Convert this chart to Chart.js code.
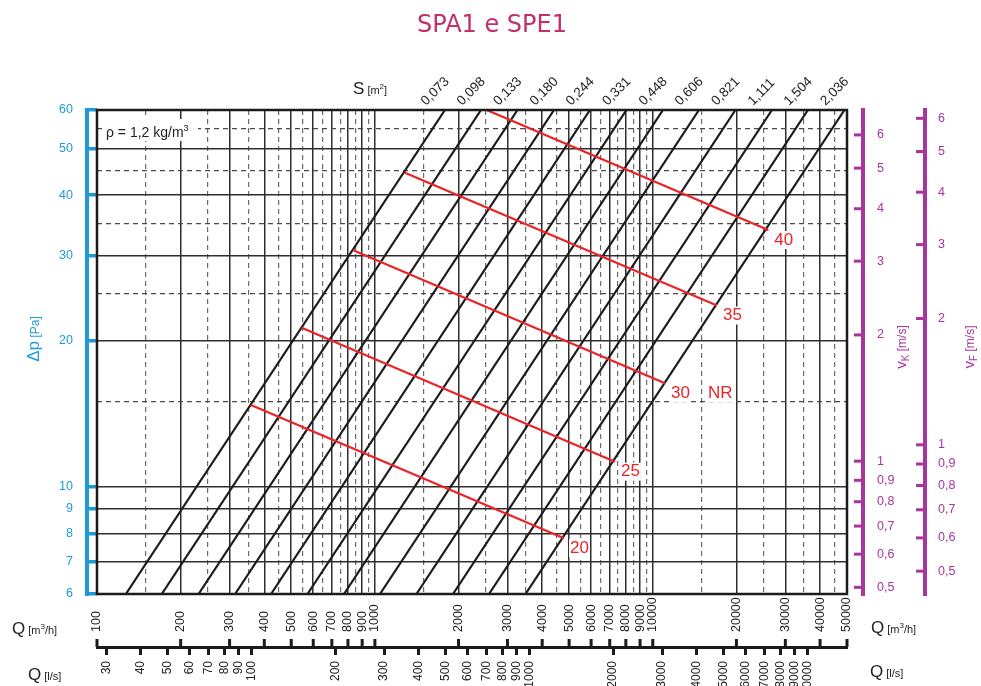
<!DOCTYPE html>
<html lang="it">
<head>
<meta charset="utf-8">
<title>SPA1 e SPE1</title>
<script src="https://cdn.jsdelivr.net/npm/chart.js@4.4.1/dist/chart.umd.min.js"></script>
<style>
  body { margin: 0; background: #fff; }
  canvas { display: block; }
</style>
</head>
<body onload="init()">
<canvas id="graficoPerdite" width="981" height="686"></canvas>
<script>
var oggettoGrafico;

// superficie S [m2] di ogni retta
const etichetteS = ['0,073', '0,098', '0,133', '0,180', '0,244', '0,331', '0,448', '0,606', '0,821', '1,111', '1,504', '2,036'];
const portataA6 = [127, 171, 232, 314, 423, 572, 774, 1043, 1411, 1910, 2574, 3483];
const portataA60 = [1787, 2409, 3260, 4411, 5943, 8042, 10882, 14664, 19840, 26849, 36176, 48960];

// curve NR (inizio e fine di ogni segmento rosso)
const etichetteNR = ['20', '25', '30', '35', '40'];
const nrInizioQ = [358, 545, 836, 1283, 2525];
const nrInizioDp = [14.75, 21.3, 30.8, 44.5, 60];
const nrFineQ = [4791, 7311, 11063, 17022, 26031];
const nrFineDp = [7.82, 11.26, 16.35, 23.67, 33.9];

// tacche degli assi
const taccheDp = [6, 7, 8, 9, 10, 20, 30, 40, 50, 60];
const taccheDpMezze = [15, 25, 35, 45, 55];
const taccheQ = [100, 200, 300, 400, 500, 600, 700, 800, 900, 1000, 2000, 3000, 4000, 5000, 6000, 7000, 8000, 9000, 10000, 20000, 30000, 40000, 50000];
const taccheQMezze = [150, 250, 350, 450, 550, 650, 750, 850, 950, 1500, 2500, 3500, 4500, 5500, 6500, 7500, 8500, 9500, 15000, 25000, 35000, 45000];
const taccheLs = [30, 40, 50, 60, 70, 80, 90, 100, 200, 300, 400, 500, 600, 700, 800, 900, 1000, 2000, 3000, 4000, 5000, 6000, 7000, 8000, 9000, 10000];
const taccheV = [0.5, 0.6, 0.7, 0.8, 0.9, 1, 2, 3, 4, 5, 6];

// estremi degli assi
const campoQ = [100, 50000];
const campoLs = [27.78, 13889];
const campoDp = [6, 60];
const campoVk = [0.482, 6.88];
const campoVf = [0.441, 6.28];

const carattere = '"Liberation Sans", Arial, sans-serif';
const blu = '#1f9ad6';
const magenta = '#a8359b';
const rosso = '#ec2227';
const nero = '#1b1b1b';

function mezzo(c, lista) {
  return c.tick !== undefined && lista.includes(c.tick.value);
}

function tutte(a, b) {
  return a.concat(b).sort(function (p, q) { return p - q; }).map(function (v) { return { value: v }; });
}

// scrive un testo fatto di pezzi con font diversi
function testo(ctx, x, y, angolo, pezzi, colore, centrato) {
  ctx.save();
  ctx.translate(x, y);
  ctx.rotate(angolo);
  ctx.fillStyle = colore;
  ctx.textAlign = 'left';
  ctx.textBaseline = 'alphabetic';
  var larghezza = 0;
  for (var p of pezzi) { ctx.font = p[1] + ' ' + carattere; larghezza += ctx.measureText(p[0]).width; }
  var cx = centrato ? -larghezza / 2 : 0;
  for (var p of pezzi) {
    ctx.font = p[1] + ' ' + carattere;
    ctx.fillText(p[0], cx, p[2] || 0);
    cx += ctx.measureText(p[0]).width;
  }
  ctx.restore();
}

const disegno = {
  id: 'disegno',
  afterDatasetsDraw(chart) {
    const ctx = chart.ctx;
    const a = chart.chartArea;
    ctx.save();
    ctx.strokeStyle = nero;
    ctx.lineWidth = 2.5;
    ctx.strokeRect(a.left, a.top, a.right - a.left, a.bottom - a.top);
    ctx.restore();
  },
  afterDraw(chart) {
    const ctx = chart.ctx;
    const a = chart.chartArea;
    const sx = chart.scales.x;
    const sy = chart.scales.y;
    const sls = chart.scales.xls;

    ctx.save();
    // asse blu del delta p
    ctx.strokeStyle = blu;
    ctx.lineWidth = 4;
    ctx.beginPath();
    ctx.moveTo(a.left - 10, a.top - 2);
    ctx.lineTo(a.left - 10, a.bottom + 2);
    ctx.stroke();

    // assi delle velocita
    ctx.strokeStyle = magenta;
    for (var s of [chart.scales.vk, chart.scales.vf]) {
      var xa = s.left + 16;
      ctx.lineWidth = 4;
      ctx.beginPath();
      ctx.moveTo(xa, a.top - 2);
      ctx.lineTo(xa, a.bottom + 2);
      ctx.stroke();
      ctx.lineWidth = 3;
      for (var t of s.ticks) {
        var yt = s.getPixelForValue(t.value);
        ctx.beginPath();
        ctx.moveTo(xa - 9, yt);
        ctx.lineTo(xa, yt);
        ctx.stroke();
      }
    }

    // tacche e numeri della portata in m3/h
    var yAsse = sls.top;
    ctx.strokeStyle = nero;
    ctx.lineWidth = 3;
    ctx.fillStyle = '#222';
    ctx.font = '12.5px ' + carattere;
    ctx.textBaseline = 'middle';
    ctx.textAlign = 'left';
    for (var v of taccheQ) {
      var px = sx.getPixelForValue(v);
      ctx.beginPath();
      ctx.moveTo(px, yAsse - 8);
      ctx.lineTo(px, yAsse);
      ctx.stroke();
      ctx.save();
      ctx.translate(px, yAsse - 15);
      ctx.rotate(-Math.PI / 2);
      ctx.fillText(String(v), 0, 0);
      ctx.restore();
    }
    ctx.restore();

    testo(ctx, 12, 634, 0, [['Q', '17px'], [' [m', '11px'], ['3', '8px', -5], ['/h]', '11px']], '#222');
    testo(ctx, 871, 633, 0, [['Q', '17px'], [' [m', '11px'], ['3', '8px', -5], ['/h]', '11px']], '#222');
    testo(ctx, 28, 680, 0, [['Q', '17px'], [' [l/s]', '11px']], '#222');
    testo(ctx, 870, 677, 0, [['Q', '17px'], [' [l/s]', '11px']], '#222');

    // etichette delle superfici
    for (var i = 0; i < etichetteS.length; i++) {
      var xs = sx.getPixelForValue(portataA60[i]);
      testo(ctx, xs - 19, 106, -Math.PI / 4, [[etichetteS[i], '13.5px']], '#222');
    }
    testo(ctx, 353, 94, 0, [['S', '17px'], [' [m', '11px'], ['2', '8px', -5], [']', '11px']], '#222');

    // densita
    ctx.save();
    ctx.fillStyle = '#fff';
    ctx.fillRect(103, 119, 95, 22);
    ctx.restore();
    testo(ctx, 106, 137, 0, [['\u03c1 = 1,2 kg/m', '14px'], ['3', '9px', -6]], '#222');

    // etichette NR
    ctx.save();
    ctx.font = '17px ' + carattere;
    ctx.textBaseline = 'middle';
    ctx.textAlign = 'left';
    for (var k = 0; k < etichetteNR.length; k++) {
      var ex = sx.getPixelForValue(nrFineQ[k]) + 6;
      var ey = sy.getPixelForValue(nrFineDp[k]) + 10;
      var w = ctx.measureText(etichetteNR[k]).width;
      ctx.fillStyle = '#fff';
      ctx.fillRect(ex - 1, ey - 9, w + 2, 18);
      ctx.fillStyle = rosso;
      ctx.fillText(etichetteNR[k], ex, ey);
      if (etichetteNR[k] === '30') {
        ctx.fillStyle = '#fff';
        ctx.fillRect(ex + 36, ey - 9, ctx.measureText('NR').width + 2, 18);
        ctx.fillStyle = rosso;
        ctx.fillText('NR', ex + 37, ey);
      }
    }
    ctx.restore();

    // titoli degli assi
    testo(ctx, 39, 339, -Math.PI / 2, [['\u0394p', '17px'], [' [Pa]', '12px']], blu, true);
    testo(ctx, 906, 347, -Math.PI / 2, [['v', '15px'], ['K', '10px', 3], [' [m/s]', '12px']], magenta, true);
    testo(ctx, 974, 347, -Math.PI / 2, [['v', '15px'], ['F', '10px', 3], [' [m/s]', '12px']], magenta, true);

    // titolo
    ctx.save();
    ctx.fillStyle = '#c1306c';
    ctx.font = '24px "DejaVu Sans", sans-serif';
    ctx.textAlign = 'center';
    ctx.textBaseline = 'alphabetic';
    ctx.fillText('SPA1 e SPE1', 492, 32);
    ctx.restore();
  }
};

function init() {
  Chart.defaults.font.family = carattere;

  const rette = etichetteS.map(function (s, i) {
    return {
      label: s,
      data: [{ x: portataA6[i], y: campoDp[0] }, { x: portataA60[i], y: campoDp[1] }],
      showLine: true,
      borderColor: nero,
      borderWidth: 2.2,
      pointRadius: 0,
      order: 1
    };
  });
  const curveNR = etichetteNR.map(function (n, i) {
    return {
      label: 'NR ' + n,
      data: [{ x: nrInizioQ[i], y: nrInizioDp[i] }, { x: nrFineQ[i], y: nrFineDp[i] }],
      showLine: true,
      borderColor: rosso,
      borderWidth: 2.2,
      pointRadius: 0,
      order: 0
    };
  });

  const config = {
    type: 'scatter',
    data: { datasets: rette.concat(curveNR) },
    options: {
      responsive: false,
      animation: false,
      events: [],
      layout: { padding: { top: 110, left: 0, right: 0, bottom: 0 } },
      plugins: { legend: { display: false }, tooltip: { enabled: false }, title: { display: false } },
      scales: {
        x: {
          type: 'logarithmic',
          position: 'bottom',
          min: campoQ[0],
          max: campoQ[1],
          bounds: 'data',
          afterBuildTicks: function (s) { s.ticks = tutte(taccheQ, taccheQMezze); },
          afterFit: function (s) { s.height = 53; },
          ticks: { display: false },
          grid: {
            drawTicks: false,
            color: function (c) { return mezzo(c, taccheQMezze) ? '#6a6a6a' : '#2e2e2e'; },
            lineWidth: function (c) { return mezzo(c, taccheQMezze) ? 1.2 : 1.5; }
          },
          border: { display: false, dash: function (c) { return mezzo(c, taccheQMezze) ? [5, 4] : []; } }
        },
        xls: {
          type: 'logarithmic',
          position: 'bottom',
          min: campoLs[0],
          max: campoLs[1],
          bounds: 'data',
          afterBuildTicks: function (s) { s.ticks = tutte(taccheLs, []); },
          afterFit: function (s) { s.height = 39; },
          ticks: {
            autoSkip: false,
            minRotation: 90,
            maxRotation: 90,
            padding: 6,
            color: '#222',
            font: { size: 12 },
            callback: function (v) { return String(v); }
          },
          grid: { drawOnChartArea: false, drawTicks: true, tickLength: 8, tickWidth: 3, tickColor: nero },
          border: { display: true, width: 3, color: nero }
        },
        y: {
          type: 'logarithmic',
          position: 'left',
          min: campoDp[0],
          max: campoDp[1],
          bounds: 'data',
          afterBuildTicks: function (s) { s.ticks = tutte(taccheDp, taccheDpMezze); },
          afterFit: function (s) { s.width = 97; },
          ticks: {
            autoSkip: false,
            padding: 14,
            color: blu,
            font: { size: 12.5 },
            callback: function (v) { return taccheDp.includes(v) ? String(v) : ''; }
          },
          grid: {
            drawTicks: true,
            tickLength: 10,
            tickWidth: 3.5,
            tickColor: function (c) { return mezzo(c, taccheDpMezze) ? 'rgba(0,0,0,0)' : blu; },
            color: function (c) { return mezzo(c, taccheDpMezze) ? '#4a4a4a' : '#2e2e2e'; },
            lineWidth: function (c) { return mezzo(c, taccheDpMezze) ? 1.2 : 1.5; }
          },
          border: { display: false, dash: function (c) { return mezzo(c, taccheDpMezze) ? [5, 4] : []; } }
        },
        vk: {
          type: 'logarithmic',
          position: 'right',
          min: campoVk[0],
          max: campoVk[1],
          bounds: 'data',
          afterBuildTicks: function (s) { s.ticks = tutte(taccheV, []); },
          afterFit: function (s) { s.width = 62; },
          ticks: {
            autoSkip: false,
            padding: 30,
            color: magenta,
            font: { size: 12.5 },
            callback: function (v) { return String(v).replace('.', ','); }
          },
          grid: { display: false, drawTicks: false },
          border: { display: false }
        },
        vf: {
          type: 'logarithmic',
          position: 'right',
          min: campoVf[0],
          max: campoVf[1],
          bounds: 'data',
          afterBuildTicks: function (s) { s.ticks = tutte(taccheV, []); },
          afterFit: function (s) { s.width = 72; },
          ticks: {
            autoSkip: false,
            padding: 29,
            color: magenta,
            font: { size: 12.5 },
            callback: function (v) { return String(v).replace('.', ','); }
          },
          grid: { display: false, drawTicks: false },
          border: { display: false }
        }
      }
    },
    plugins: [disegno]
  };

  oggettoGrafico = new Chart(document.getElementById('graficoPerdite'), config);
}
</script>
</body>
</html>
